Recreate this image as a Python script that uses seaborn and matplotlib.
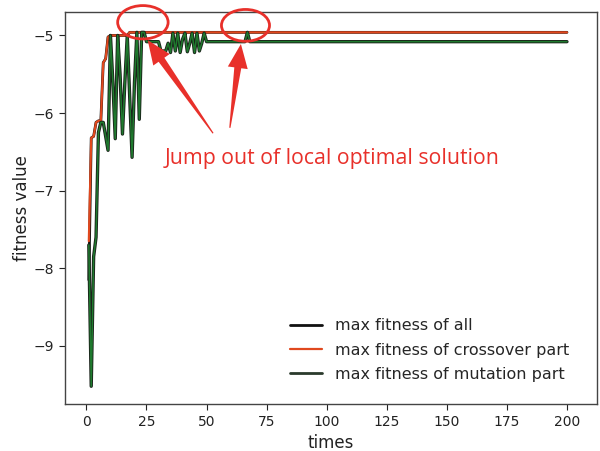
import numpy as np
import pandas as pd
import matplotlib
matplotlib.use("Agg")
import matplotlib.pyplot as plt
import matplotlib.patheffects as pe
from matplotlib.patches import Ellipse, Polygon
import seaborn as sns

# ---- data ----
times = list(range(1, 201))

crossover_head = [-7.65, -6.32, -6.30, -6.12, -6.10, -6.10, -5.35, -5.30, -5.02,
                  -5.00, -5.00, -5.00, -5.00, -5.00, -5.00, -5.00, -5.00]
crossover_tail_value = -4.96

mutation_head = [-7.70, -9.52, -7.85, -7.60, -6.25, -6.12, -6.12, -6.30, -6.48,
                 -5.00, -5.60, -6.33, -5.00, -5.50, -6.27, -5.60, -5.00, -5.80,
                 -6.57, -5.60, -4.96, -6.08, -4.96, -4.96, -5.08, -5.08, -5.08,
                 -5.08, -5.08, -5.08, -5.20, -5.20, -5.20, -5.10, -5.22, -4.97,
                 -5.20, -4.97, -5.22, -5.05, -4.97, -5.21, -5.10, -4.97, -5.22,
                 -4.97, -5.20, -5.10, -4.97, -5.08, -5.08, -5.08, -5.08, -5.08,
                 -5.08, -5.08, -5.08, -5.08, -5.08, -5.08, -5.08, -5.08, -5.08,
                 -5.08, -5.08, -5.08, -4.96]
mutation_tail_value = -5.08

all_head = [-8.15]

crossover = crossover_head + [crossover_tail_value] * (200 - len(crossover_head))
mutation = mutation_head + [mutation_tail_value] * (200 - len(mutation_head))
all_fit = all_head + [max(c, m) for c, m in zip(crossover[1:], mutation[1:])]

labels = ["max fitness of all", "max fitness of crossover part",
          "max fitness of mutation part"]

df = pd.DataFrame({"times": times, "all": all_fit,
                   "crossover": crossover, "mutation": mutation})

# ---- plot ----
sns.set_theme(style="white")
plt.rcParams["font.family"] = ["DejaVu Sans"]

fig = plt.figure(figsize=(6.0, 4.51), dpi=100)
ax = fig.add_axes([0.108, 0.104, 0.887, 0.869])

sns.lineplot(data=df, x="times", y="all", ax=ax, color="#111111",
             linewidth=2.0, label=labels[0])
sns.lineplot(data=df, x="times", y="crossover", ax=ax, color="#e0481e",
             linewidth=1.6, label=labels[1])
sns.lineplot(data=df, x="times", y="mutation", ax=ax, color="#1f7a2e",
             linewidth=1.1, label=labels[2],
             path_effects=[pe.Stroke(linewidth=2.4, foreground="#1a221a"),
                           pe.Normal()])

ax.set_xlim(-9, 212.5)
ax.set_ylim(-9.75, -4.70)
ax.set_xticks([0, 25, 50, 75, 100, 125, 150, 175, 200])
ax.set_yticks([-9, -8, -7, -6, -5])
ax.set_yticklabels(["\u22129", "\u22128", "\u22127", "\u22126", "\u22125"])
ax.set_xlabel("times", fontsize=12, color="#222222")
ax.set_ylabel("fitness value", fontsize=12, color="#222222", labelpad=2)
ax.tick_params(axis="both", labelsize=10, colors="#222222", length=4,
               width=0.8, direction="out", bottom=True, left=True)
for s in ax.spines.values():
    s.set_color("#444444")
    s.set_linewidth(1.0)

leg = ax.legend(loc="lower right", bbox_to_anchor=(0.975, 0.02),
                frameon=False, fontsize=11.5, handlelength=2.0,
                labelspacing=0.58, handletextpad=0.8)
for h in leg.get_lines():
    h.set_path_effects([])
leg.get_lines()[2].set_color("#2a3a2c")
leg.get_lines()[2].set_linewidth(2.0)

# ---- annotations ----
red = "#e8302a"
for (cx, cy, w, h) in [(23.5, -4.83, 21.0, 0.43), (66.2, -4.87, 20.0, 0.41)]:
    e = Ellipse((cx, cy), w, h, fill=False, edgecolor=red, linewidth=2.0,
                clip_on=False, zorder=5)
    ax.add_patch(e)

fig.canvas.draw()
for (tail, head) in [((52.7, -6.26), (25.5, -5.06)),
                     ((59.7, -6.19), (64.3, -5.11))]:
    T = np.array(ax.transData.transform(tail))
    H = np.array(ax.transData.transform(head))
    u = (H - T) / np.linalg.norm(H - T)
    n = np.array([-u[1], u[0]])
    B = H - u * 24
    pts = [T + n * 0.6, B + n * 3.5, B + n * 10, H, B - n * 10, B - n * 3.5,
           T - n * 0.6]
    poly = Polygon(pts, closed=True, transform=None, facecolor=red,
                   edgecolor="none", zorder=6)
    fig.add_artist(poly)

ax.text(32.6, -6.58, "Jump out of local optimal solution", color=red,
        fontsize=15.3, family=["Open Sans", "DejaVu Sans"], va="center",
        ha="left")

fig.savefig("out.png", dpi=100)
